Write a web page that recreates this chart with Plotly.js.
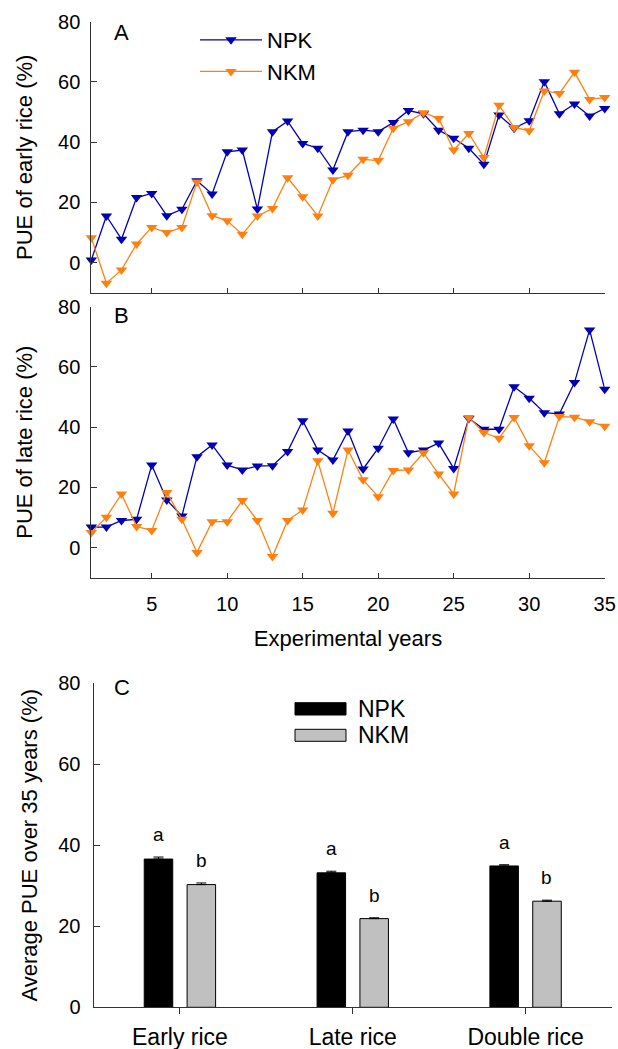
<!DOCTYPE html>
<html>
<head>
<meta charset="utf-8">
<script src="https://cdn.plot.ly/plotly-3.0.1.min.js"></script>
<style>html,body{margin:0;padding:0;background:#fff;}#chart{width:618px;height:1049px;}</style>
</head>
<body>
<div id="chart"></div>
<script>
// ---- data ----
const years = [1,2,3,4,5,6,7,8,9,10,11,12,13,14,15,16,17,18,19,20,21,22,23,24,25,26,27,28,29,30,31,32,33,34,35];
const earlyNPK = [0.9,15.5,7.8,21.6,23.0,15.6,17.7,27.2,22.8,36.8,37.4,17.8,43.5,47.0,39.6,38.0,30.8,43.5,44.0,43.5,46.5,50.5,49.4,44.0,41.3,38.0,32.7,49.0,44.6,47.1,60.1,49.4,52.7,48.7,51.2];
const earlyNKM = [8.3,-6.8,-2.4,6.2,11.7,10.0,11.7,26.8,15.6,13.9,9.4,15.5,18.0,28.2,21.9,15.5,27.5,29.0,34.3,33.9,44.6,46.8,49.8,47.9,37.4,42.9,34.9,52.3,44.9,43.8,57.0,56.2,63.2,54.2,54.8];
const lateNPK = [6.8,6.8,9.0,9.4,27.4,15.8,10.5,30.2,34.1,27.4,25.8,27.1,27.2,31.9,42.1,32.4,29.1,38.7,26.1,33.0,42.7,31.5,32.4,34.7,26.3,42.9,39.3,39.3,53.4,49.6,44.8,44.4,54.8,72.3,52.6];
const lateNKM = [5.0,10.1,17.8,7.0,5.7,18.3,9.4,-1.6,8.6,8.6,15.6,9.0,-3.0,9.0,12.5,28.8,11.4,32.4,22.5,16.9,25.6,25.8,31.5,24.4,17.8,43.2,38.2,36.3,43.2,33.8,28.2,43.5,43.3,41.8,40.3];

const categories = ['Early rice','Late rice','Double rice'];
const avgNPK = [36.6, 33.2, 34.9];
const avgNKM = [30.3, 21.9, 26.2];
const errNPK = [0.5, 0.4, 0.3];
const errNKM = [0.4, 0.2, 0.25];
const lettersNPK = ['a','a','a'];
const lettersNKM = ['b','b','b'];
const seriesNames = ['NPK','NKM'];

// ---- styles ----
const W = 618, H = 1049;
const BLUE = '#0000b4', ORANGE = '#ff8010';
const FONT = 'Arial, "Liberation Sans", sans-serif';
const AX = '#333333';
const px = v => v / W;
const py = v => 1 - v / H;

function lineTrace(y, name, color, xa, ya, showlegend) {
  return {
    type: 'scatter', mode: 'lines+markers', x: years, y: y, name: name,
    xaxis: xa, yaxis: ya, showlegend: showlegend, cliponaxis: false,
    line: {color: color, width: 1.3},
    marker: {symbol: 'triangle-down', size: 10, color: color}
  };
}

const traces = [
  lineTrace(earlyNPK, seriesNames[0], BLUE, 'x', 'y', true),
  lineTrace(earlyNKM, seriesNames[1], ORANGE, 'x', 'y', true),
  lineTrace(lateNPK, seriesNames[0], BLUE, 'x2', 'y2', false),
  lineTrace(lateNKM, seriesNames[1], ORANGE, 'x2', 'y2', false),
  {type: 'bar', x: categories, y: avgNPK, name: seriesNames[0], xaxis: 'x3', yaxis: 'y3', showlegend: false,
   marker: {color: '#000000', line: {color: '#000000', width: 1}},
   error_y: {type: 'data', array: errNPK, arrayminus: errNPK.map(() => 0), symmetric: false, color: '#000', thickness: 1, width: 5}},
  {type: 'bar', x: categories, y: avgNKM, name: seriesNames[1], xaxis: 'x3', yaxis: 'y3', showlegend: false,
   marker: {color: '#c0c0c0', line: {color: '#000000', width: 1}},
   error_y: {type: 'data', array: errNKM, arrayminus: errNKM.map(() => 0), symmetric: false, color: '#000', thickness: 1, width: 5}}
];

const tickFont = {family: FONT, size: 20, color: '#000'};
const titleFont = {family: FONT, size: 22, color: '#000'};

function xLine(domain, showLabels, anchor) {
  return {
    domain: domain, anchor: anchor, range: [1, 35], tickmode: 'linear', tick0: 0, dtick: 5,
    ticks: 'inside', ticklen: 5, tickcolor: AX, showticklabels: showLabels, ticklabelstandoff: 8,
    showline: true, linecolor: AX, linewidth: 1, showgrid: false, zeroline: false,
    tickfont: tickFont, fixedrange: true
  };
}
function yLine(domain, title, anchor) {
  return {
    domain: domain, anchor: anchor, range: [-10, 80], tickmode: 'array', tickvals: [0,20,40,60,80],
    ticks: 'inside', ticklen: 6, tickcolor: AX, ticklabelstandoff: 6,
    showline: true, linecolor: AX, linewidth: 1, showgrid: false, zeroline: false,
    tickfont: tickFont, title: {text: title, font: titleFont, standoff: 19}
  };
}

const layout = {
  width: W, height: H, margin: {l: 0, r: 0, t: 0, b: 0},
  paper_bgcolor: '#fff', plot_bgcolor: 'rgba(0,0,0,0)',
  font: {family: FONT, color: '#000'},
  barmode: 'group', bargap: 0.504, bargroupgap: 0.335,
  xaxis: xLine([px(91.3), px(604.7)], false, 'y'),
  yaxis: yLine([py(292.8), py(21.7)], 'PUE of early rice (%)', 'x'),
  xaxis2: Object.assign(xLine([px(91.3), px(604.7)], true, 'y2'),
    {title: {text: 'Experimental years', font: titleFont, standoff: 16}}),
  yaxis2: yLine([py(577.7), py(306.7)], 'PUE of late rice (%)', 'x2'),
  xaxis3: {domain: [px(93.5), px(612)], anchor: 'y3', type: 'category', range: [-0.5, 2.5],
    ticks: 'outside', ticklen: 6, tickcolor: AX, ticklabelstandoff: 3, showline: true, linecolor: AX, linewidth: 1,
    showgrid: false, zeroline: false, tickfont: {family: FONT, size: 23, color: '#000'}},
  yaxis3: {domain: [py(1007.3), py(683.3)], anchor: 'x3', range: [0, 80], tickvals: [0,20,40,60,80],
    ticks: 'inside', ticklen: 6, tickcolor: AX, ticklabelstandoff: 8,
    showline: true, linecolor: AX, linewidth: 1, showgrid: false, zeroline: false,
    tickfont: tickFont, title: {text: 'Average PUE over 35 years (%)', font: titleFont, standoff: 14}},
  showlegend: true,
  legend: {x: px(195), y: py(19), xanchor: 'left', yanchor: 'top', bgcolor: 'rgba(0,0,0,0)',
    borderwidth: 0, itemwidth: 62, font: {family: FONT, size: 22, color: '#000'}, tracegroupgap: 0},
  annotations: [],
  shapes: []
};

// panel letters
[['A', 32], ['B', 315], ['C', 688]].forEach(([t, y]) => {
  layout.annotations.push({text: t, xref: 'paper', yref: 'paper', x: px(112), y: py(y),
    xanchor: 'left', yanchor: 'middle', showarrow: false, font: {family: FONT, size: 22, color: '#000'}});
});

// significance letters
categories.forEach((c, i) => {
  layout.annotations.push({text: lettersNPK[i], xref: 'x3', yref: 'y3', x: c, xshift: -21.4,
    y: avgNPK[i] + errNPK[i], yanchor: 'bottom', yshift: 10, showarrow: false,
    font: {family: FONT, size: 19, color: '#000'}});
  layout.annotations.push({text: lettersNKM[i], xref: 'x3', yref: 'y3', x: c, xshift: 21.4,
    y: avgNKM[i] + errNKM[i], yanchor: 'bottom', yshift: 10, showarrow: false,
    font: {family: FONT, size: 19, color: '#000'}});
});

// legend for panel C (key boxes)
const legC = [[seriesNames[0], '#000000', 702.7, 715], [seriesNames[1], '#c0c0c0', 729.3, 741.3]];
legC.forEach(([name, fill, y0, y1]) => {
  layout.shapes.push({type: 'rect', xref: 'paper', yref: 'paper', x0: px(295), x1: px(346), y0: py(y1), y1: py(y0),
    fillcolor: fill, line: {color: '#000', width: 1}});
  layout.annotations.push({text: name, xref: 'paper', yref: 'paper', x: px(356), y: py((y0 + y1) / 2),
    xanchor: 'left', yanchor: 'middle', showarrow: false, font: {family: FONT, size: 23, color: '#000'}});
});

Plotly.newPlot('chart', traces, layout, {staticPlot: true, displayModeBar: false});
</script>
</body>
</html>
